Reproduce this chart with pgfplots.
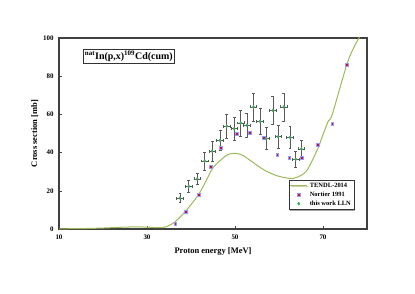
\documentclass[border=0pt]{standalone}
\usepackage{pgfplots}
\pgfplotsset{compat=1.18}
\usetikzlibrary{shadows}
\usepackage{fontspec}
\setmainfont{Liberation Serif}
\definecolor{tendl}{HTML}{9BBB59}
\definecolor{nred}{HTML}{C0143C}
\definecolor{nblue}{HTML}{9999FF}
\definecolor{lgreen}{HTML}{3CAA5A}
\begin{document}
\begin{tikzpicture}
\begin{axis}[
  scale only axis, width=308bp, height=191bp,
  xmin=10, xmax=80, ymin=0, ymax=100,
  xtick={10,30,50,70}, ytick={0,20,40,60,80,100},
  axis line style={black!75, line width=1.1pt},
  tick style={black!75, line width=0.6pt},
  major tick length=3pt,
  xtick pos=bottom, ytick pos=left,
  ticklabel style={font=\fontsize{7}{8}\selectfont\bfseries},
  xticklabel style={yshift=-2pt},
  yticklabel style={xshift=-2pt},
  /pgf/number format/assume math mode=true,
  xlabel={Proton energy [MeV]}, ylabel={Cross section [mb]},
  label style={font=\fontsize{8.5}{9}\selectfont\bfseries},
  xlabel style={yshift=-2pt},
  ylabel style={yshift=-2pt},
  clip=true,
  legend style={at={(0.958,0.1)}, anchor=south east, font=\fontsize{6.5}{7.5}\selectfont\bfseries,
    draw=black!80, line width=0.5pt, inner sep=1pt, row sep=-1pt,
    drop shadow={shadow xshift=1pt, shadow yshift=-1pt, fill=black!70}},
  legend cell align=left,
]
\addplot[tendl, line width=1pt, smooth, tension=0.5] coordinates {
(10,0.1) (15,0.2) (20,0.5) (24,0.9) (27,1.1) (30,1.0) (32,0.7) (33.7,0.8) (35,1.8) (36.4,3.8) (38.8,9.4) (41.7,18) (43.5,25.5) (45.1,32.3) (48.1,38.6) (50.2,39.6) (51.8,38.5) (53.4,36) (56.4,31.2) (59.5,27.9) (62.5,26.5) (64,27) (66.3,30.5) (68.8,42) (69.7,47.5) (71.2,56.5) (72.1,60) (75.4,86) (77,95) (78.3,100.5)
};
\addlegendentry{TENDL-2014}
\addplot[only marks, mark=square*, mark size=1.4pt, mark options={fill=nred, draw=nblue, line width=0.4pt}] coordinates {
(36.4,2.6) (38.8,9.2) (41.7,18) (44.4,32.6) (46.8,42.4) (50.3,49.7) (53.4,50.4) (56.6,47.8) (59.6,39.1) (62.3,37.3) (65.2,37.3) (68.8,44) (72.1,55.3) (75.4,85.9)
};
\addlegendentry{Nortier 1991}
\addplot[only marks, mark=diamond*, mark size=1.5pt, mark options={fill=lgreen, draw=lgreen},
  error bars/.cd, x dir=both, x explicit, y dir=both, y explicit,
  error bar style={black!65, line width=0.6pt},
  error mark options={black!65, line width=0.6pt, mark size=1.5pt, rotate=90}]
coordinates {
(37.5,16.2) +- (0.75,2.4)
(39.5,22.3) +- (0.75,3)
(41.4,26.2) +- (0.75,3)
(43.1,35.6) +- (0.75,4.7)
(44.8,40.8) +- (0.75,5.2)
(46.6,46.4) +- (0.75,5.4)
(48.1,53.8) +- (0.75,6.5)
(49.8,52.5) +- (0.75,6)
(51.3,55.5) +- (0.75,6.8)
(52.7,54.3) +- (0.75,6.1)
(54.2,63.9) +- (0.75,7.3)
(55.7,56.4) +- (0.75,6.8)
(57.1,47.3) +- (0.75,5.8)
(58.6,62.1) +- (0.75,7.5)
(59.8,48.3) +- (0.75,5.8)
(61.1,63.9) +- (0.75,7.4)
(62.5,48.0) +- (0.75,5.6)
(63.8,36.5) +- (0.75,4.4)
(65.1,41.9) +- (0.75,4.8)
};
\addlegendentry{this work LLN}
\node[draw=black!80, fill=white, line width=0.5pt, inner sep=1.5pt, anchor=north west,
  drop shadow={shadow xshift=1.2pt, shadow yshift=-1.2pt, fill=black!80},
  font=\fontsize{10}{11}\selectfont\bfseries]
  at (axis cs:15.5,94) {\textsuperscript{nat}In(p,x)\textsuperscript{109}Cd(cum)};
\end{axis}
\pgfresetboundingbox
\useasboundingbox (-59bp,-65bp) rectangle (356bp,229bp);
\end{tikzpicture}
\end{document}
